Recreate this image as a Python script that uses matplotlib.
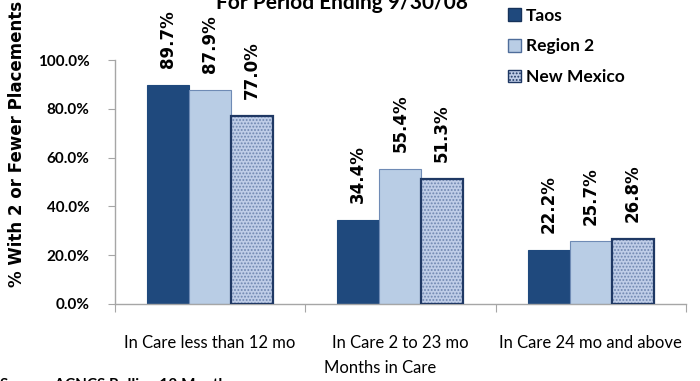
import matplotlib
matplotlib.use("Agg")
import matplotlib.pyplot as plt
import numpy as np
from matplotlib.patches import Patch

# ---------------------------------------------------------------------------
# Data
# ---------------------------------------------------------------------------
categories = ["In Care less than 12 mo", "In Care 2 to 23 mo", "In Care 24 mo and above"]
series_names = ["Taos", "Region 2", "New Mexico"]
taos = [0.897, 0.344, 0.222]
region2 = [0.879, 0.554, 0.257]
new_mexico = [0.770, 0.513, 0.268]

yticks = [0.0, 0.2, 0.4, 0.6, 0.8, 1.0]

# ---------------------------------------------------------------------------
# Style
# ---------------------------------------------------------------------------
_FONT = "Lato"
_AXIS_GREY = "#a6a6a6"
_TAOS = "#1f497d"
_REG2 = "#b9cde5"
_NM_FACE = "#bfcde7"
_NM_HATCH = "#6f86b0"
_NM_EDGE = "#1f3864"
_W = 0.22

plt.rcParams.update({
    "font.family": _FONT,
    "hatch.linewidth": 0.9,
})

fig = plt.figure(figsize=(7.0, 3.81), dpi=100)
ax = fig.add_axes([0.1636, 0.2021, 0.8164, 0.6404])

x = np.arange(len(categories))
series = [taos, region2, new_mexico]

ax.bar(x - _W, taos, _W, color=_TAOS, edgecolor=_TAOS, lw=0.8, zorder=2)
ax.bar(x, region2, _W, color=_REG2, edgecolor="#6f8bb5", lw=0.8, zorder=2)
ax.bar(x + _W, new_mexico, _W, color=_NM_FACE, edgecolor=_NM_HATCH,
       hatch=".....", lw=0, zorder=2)
ax.bar(x + _W, new_mexico, _W, fill=False, edgecolor=_NM_EDGE, lw=1.6, zorder=3)

# value labels, rotated
for off, vals in zip((-_W, 0, _W), series):
    for xi, v in zip(x, vals):
        ax.annotate(f"{v * 100:.1f}%", (xi + off, v), xytext=(0, 12),
                    textcoords="offset points", rotation=90,
                    ha="center", va="bottom", fontsize=12,
                    fontweight="bold", family="DejaVu Sans",
                    annotation_clip=False)

ax.set_xlim(-0.5, len(categories) - 0.5)
ax.set_ylim(0, 1.0)
ax.set_yticks(yticks)
ax.set_yticklabels([f"{t * 100:.1f}%" for t in yticks], fontsize=11,
                   fontweight="bold")
ax.tick_params(axis="y", length=5, color=_AXIS_GREY, pad=13)

ax.set_xticks(np.arange(-0.5, len(categories)), labels=[""] * (len(categories) + 1))
ax.tick_params(axis="x", which="major", length=6, color=_AXIS_GREY)
ax.set_xticks(x, minor=True)
ax.set_xticklabels(categories, minor=True, fontsize=12)
ax.tick_params(axis="x", which="minor", length=0, pad=22)

for s in ("top", "right"):
    ax.spines[s].set_visible(False)
for s in ("left", "bottom"):
    ax.spines[s].set_color(_AXIS_GREY)
    ax.spines[s].set_linewidth(1.0)

fig.text(0.543, 1 - 368 / 381, "Months in Care", ha="center", va="center",
         fontsize=12)
fig.text(0.025, 1 - 287 / 381, "% With 2 or Fewer Placements", rotation=90,
         ha="center", va="bottom", fontsize=12, fontweight="bold",
         family="DejaVu Sans")
fig.text(0.489, 1 - 9 / 381, "For Period Ending 9/30/08", ha="center",
         va="baseline", fontsize=15, fontweight="bold")
fig.text(0.0, 1 - 389 / 381, "Source: ACNCS Rolling 12 Month", ha="left",
         va="baseline", fontsize=11, fontweight="bold")

handles = [
    Patch(facecolor=_TAOS, edgecolor="#16325a", label="Taos"),
    Patch(facecolor=_REG2, edgecolor="#4f6d9a", label="Region 2"),
    Patch(facecolor=_NM_FACE, edgecolor=_NM_EDGE, hatch=".....", label="New Mexico"),
]
fig.legend(handles=handles, loc="upper left", bbox_to_anchor=(0.703, 1.021),
           frameon=False, handlelength=0.75, handleheight=0.75,
           handletextpad=0.3, labelspacing=0.85,
           prop={"family": _FONT, "weight": "bold", "size": 12.5})

fig.savefig("out.png", dpi=100)
